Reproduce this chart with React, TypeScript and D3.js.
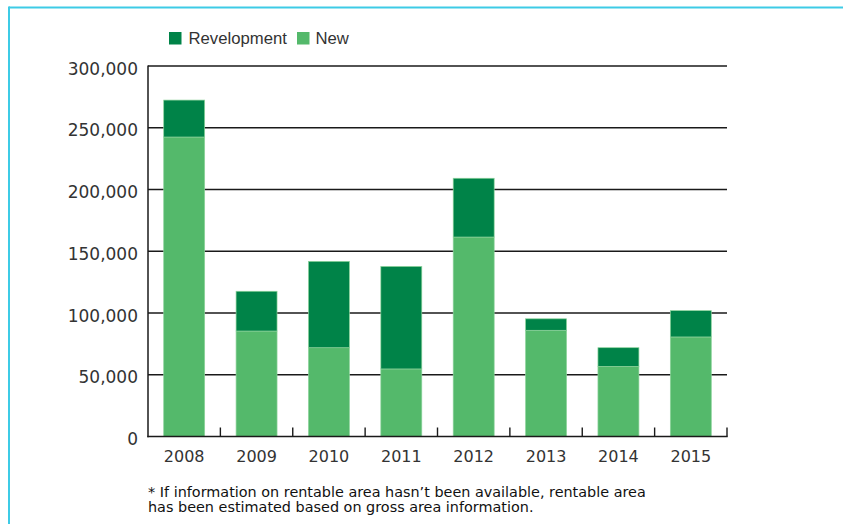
import React from "react";
import * as d3 from "d3";

const years = ["2008", "2009", "2010", "2011", "2012", "2013", "2014", "2015"];
const newArea = [242500, 85400, 71900, 54700, 161500, 86000, 56800, 80600];
const revelopment = [29900, 32200, 69900, 83000, 47600, 9300, 15100, 21300];
const yTicks = [0, 50000, 100000, 150000, 200000, 250000, 300000];
const seriesNames = ["Revelopment", "New"];
const footnote = [
  "* If information on rentable area hasn\u2019t been available, rentable area",
  "has been estimated based on gross area information.",
];

const W = 843;
const H = 524;
const left = 148;
const right = 727;
const top = 66;
const bottom = 436.5;

const DARK = "#008348";
const LIGHT = "#54b96b";
const EDGE = "#8dd39b";

export default function App() {
  const x = d3
    .scaleBand<string>()
    .domain(years)
    .range([left, right])
    .paddingInner(0.434)
    .paddingOuter(0.217);
  const y = d3.scaleLinear().domain([0, 300000]).range([bottom, top]);
  const fmt = d3.format(",");
  const step = x.step();
  const boundaries = d3.range(1, years.length + 1).map((i) => left + i * step);

  return (
    <svg
      width={W}
      height={H}
      style={{ position: "absolute", left: 0, top: 0, background: "#fff" }}
    >
      {/* frame */}
      <line x1={9} y1={7.5} x2={W} y2={7.5} stroke="#3ecbe6" strokeWidth={2} />
      <line x1={9} y1={6.5} x2={9} y2={H} stroke="#3ecbe6" strokeWidth={2} />

      {/* legend */}
      <rect x={169} y={32} width={12.5} height={12.5} fill={DARK} />
      <text x={188.5} y={44.3} fontFamily="Liberation Sans, Arial, sans-serif" fontSize={16.7} fill="#333">
        {seriesNames[0]}
      </text>
      <rect x={297} y={32} width={12.5} height={12.5} fill={LIGHT} />
      <text x={315.5} y={44.3} fontFamily="Liberation Sans, Arial, sans-serif" fontSize={16.7} fill="#333">
        {seriesNames[1]}
      </text>

      {/* gridlines */}
      {yTicks
        .filter((t) => t > 0)
        .map((t) => (
          <line key={t} x1={left} x2={right} y1={y(t)} y2={y(t)} stroke="#1a1a1a" strokeWidth={1.4} />
        ))}

      {/* y labels */}
      {yTicks.map((t) => (
        <text
          key={"l" + t}
          x={138}
          y={y(t) + 8.5}
          textAnchor="end"
          fontFamily="DejaVu Sans, sans-serif"
          fontSize={17}
          fill="#333"
        >
          {fmt(t)}
        </text>
      ))}

      {/* bars */}
      {years.map((yr, i) => {
        const bx = x(yr)!;
        const bw = x.bandwidth();
        const n = newArea[i];
        const r = revelopment[i];
        return (
          <g key={yr}>
            <rect x={bx} y={y(n)} width={bw} height={bottom - y(n)} fill={LIGHT} stroke={EDGE} strokeWidth={0.7} />
            <rect x={bx} y={y(n + r)} width={bw} height={y(n) - y(n + r)} fill={DARK} stroke={EDGE} strokeWidth={0.7} />
          </g>
        );
      })}

      {/* axes */}
      <line x1={left} x2={left} y1={top - 0.5} y2={bottom + 0.7} stroke="#1a1a1a" strokeWidth={1.5} />
      <line x1={left - 0.7} x2={right + 0.7} y1={bottom} y2={bottom} stroke="#1a1a1a" strokeWidth={1.5} />
      {boundaries.map((bx) => (
        <line key={bx} x1={bx} x2={bx} y1={bottom} y2={bottom - 9} stroke="#1a1a1a" strokeWidth={1.4} />
      ))}

      {/* x labels */}
      {years.map((yr) => (
        <text
          key={"x" + yr}
          x={x(yr)! + x.bandwidth() / 2}
          y={462.3}
          textAnchor="middle"
          fontFamily="DejaVu Sans, sans-serif"
          fontSize={16}
          fill="#333"
        >
          {yr}
        </text>
      ))}

      {/* footnote */}
      {footnote.map((line, i) => (
        <text
          key={"f" + i}
          x={148}
          y={497 + i * 14.5}
          fontFamily="DejaVu Sans, sans-serif"
          fontSize={14.4}
          fill="#111"
        >
          {line}
        </text>
      ))}
    </svg>
  );
}
